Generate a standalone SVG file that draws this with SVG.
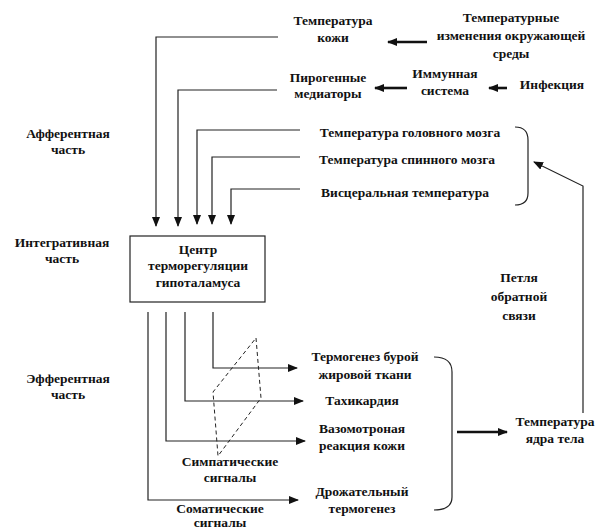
<svg xmlns="http://www.w3.org/2000/svg" width="599" height="531" viewBox="0 0 599 531">
<style>
text{font-family:"Liberation Serif","Times New Roman",serif;font-weight:bold;font-size:13.5px;fill:#111;text-anchor:middle}
.ln{fill:none;stroke:#222;stroke-width:1.2}
.thick{fill:none;stroke:#111;stroke-width:2.6}
.dash{fill:none;stroke:#222;stroke-width:1;stroke-dasharray:4,3}
</style>
<defs>
<marker id="ah" markerWidth="10" markerHeight="8" refX="9" refY="4" orient="auto" markerUnits="userSpaceOnUse">
<path d="M0,0 L10,4 L0,8 Z" fill="#111"/>
</marker>
</defs>
<rect width="599" height="531" fill="#fff"/>

<g id="labels">
<text x="68" y="138">Афферентная</text><text x="68" y="154">часть</text>
<text x="62" y="247">Интегративная</text><text x="62" y="263">часть</text>
<text x="68" y="383">Эфферентная</text><text x="68" y="399">часть</text>
<text x="519" y="282">Петля</text><text x="519" y="301">обратной</text><text x="519" y="320">связи</text>
<text x="230" y="466">Симпатические</text><text x="230" y="482">сигналы</text>
<text x="220" y="513" font-size="12">Соматические</text><text x="220" y="527" font-size="12">сигналы</text>
</g>

<g id="n-skin"><text x="333" y="25">Температура</text><text x="333" y="42">кожи</text></g>
<g id="n-env"><text x="511" y="22">Температурные</text><text x="511" y="40">изменения окружающей</text><text x="511" y="58">среды</text></g>
<g id="n-pyro"><text x="328" y="82">Пирогенные</text><text x="328" y="98">медиаторы</text></g>
<g id="n-immune"><text x="445" y="78">Иммунная</text><text x="445" y="95">система</text></g>
<g id="n-infect"><text x="552" y="89">Инфекция</text></g>
<g id="n-brain"><text x="410" y="137">Температура головного мозга</text></g>
<g id="n-spine"><text x="407" y="164">Температура спинного мозга</text></g>
<g id="n-visc"><text x="405" y="197">Висцеральная температура</text></g>
<g id="n-center"><rect x="130" y="236" width="135" height="66" fill="#fff" stroke="#222" stroke-width="1.2"/>
<text x="198" y="254">Центр</text><text x="198" y="270">терморегуляции</text><text x="198" y="287">гипоталамуса</text></g>
<g id="n-brown"><text x="365" y="361">Термогенез бурой</text><text x="365" y="379">жировой ткани</text></g>
<g id="n-tachy"><text x="362" y="405">Тахикардия</text></g>
<g id="n-vaso"><text x="362" y="433">Вазомотроная</text><text x="362" y="450">реакция кожи</text></g>
<g id="n-shiver"><text x="362" y="496">Дрожательный</text><text x="362" y="513">термогенез</text></g>
<g id="n-core"><text x="555" y="426">Температура</text><text x="555" y="443">ядра тела</text></g>

<g id="connectors">
<path class="thick" d="M427,42 L388,42" marker-end="url(#ah)"/>
<path class="thick" d="M407,88 L375,88" marker-end="url(#ah)"/>
<path class="thick" d="M507,88 L489,88" marker-end="url(#ah)"/>
<path class="ln" d="M278,37 L156,37 L156,226" marker-end="url(#ah)"/>
<path class="ln" d="M277,90 L178,90 L178,226" marker-end="url(#ah)"/>
<path class="ln" d="M300,130 L197,130 L197,224" marker-end="url(#ah)"/>
<path class="ln" d="M300,157 L212,157 L212,224" marker-end="url(#ah)"/>
<path class="ln" d="M300,189 L231,189 L231,224" marker-end="url(#ah)"/>
<path class="ln" d="M515,127 Q528,127 528,140 L528,193 Q528,205 515,205"/>
<path class="ln" d="M583,413 L583,186 L534,162" marker-end="url(#ah)"/>
<path class="ln" d="M213,312 L213,368 L297,368" marker-end="url(#ah)"/>
<path class="ln" d="M185,312 L185,401 L303,401" marker-end="url(#ah)"/>
<path class="ln" d="M166,312 L166,441 L305,441" marker-end="url(#ah)"/>
<path class="ln" d="M148,312 L148,500 L298,500" marker-end="url(#ah)"/>
<path class="dash" d="M256,338 L261,398 L218,456 L213,392 Z"/>
<path class="ln" d="M434,357 Q452,357 452,372 L452,497 Q452,510 434,510"/>
<path class="thick" d="M457,432 L507,432" marker-end="url(#ah)"/>
</g>
</svg>
